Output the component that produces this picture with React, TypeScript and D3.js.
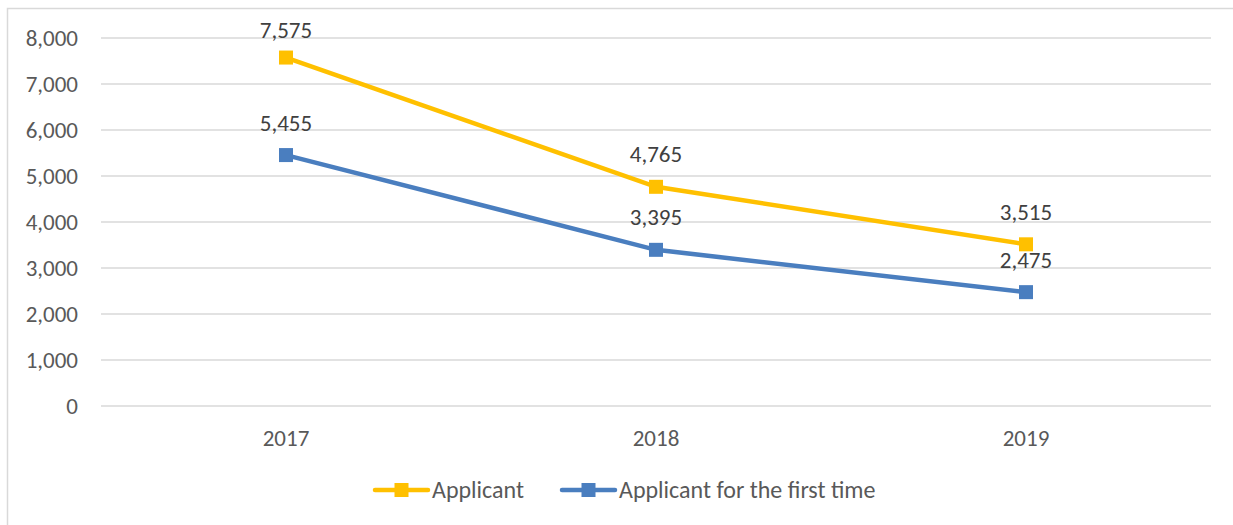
import React from "react";
import * as d3 from "d3";

const categories = ["2017", "2018", "2019"];
const applicant = [7575, 4765, 3515];
const firstTime = [5455, 3395, 2475];
const yTicks = [0, 1000, 2000, 3000, 4000, 5000, 6000, 7000, 8000];
const seriesNames = ["Applicant", "Applicant for the first time"];
const seriesColors = ["#FFC000", "#4A7EBF"];

export default function App() {
  const W = 1233, H = 525;
  const left = 101, right = 1211, top = 38, bottom = 406;
  const x = d3.scaleBand().domain(categories).range([left, right]);
  const y = d3.scaleLinear().domain([0, 8000]).range([bottom, top]);
  const fmt = d3.format(",");
  const line = d3
    .line<number>()
    .x((_, i) => (x(categories[i]) as number) + x.bandwidth() / 2)
    .y((d) => y(d));
  const series = [applicant, firstTime];
  const font = "Carlito, Calibri, 'Open Sans', sans-serif";
  const fs = 23;
  const legendItems = [
    { x: 375, textX: 432 },
    { x: 562, textX: 619 },
  ];
  return (
    <svg
      width={W}
      height={H}
      style={{ position: "absolute", left: 0, top: 0, background: "#fff" }}
      fontFamily={font}
    >
      <rect x={7.5} y={8.5} width={W + 10} height={H + 10} fill="#fff" stroke="#D9D9D9" strokeWidth={1.5} />
      {yTicks.map((t) => (
        <g key={t}>
          <line x1={left} x2={right} y1={y(t)} y2={y(t)} stroke="#D9D9D9" strokeWidth={1.5} />
          <text x={78} y={y(t)} dy="0.33em" textAnchor="end" fontSize={fs} fill="#595959">
            {fmt(t)}
          </text>
        </g>
      ))}
      {categories.map((c) => (
        <text
          key={c}
          x={(x(c) as number) + x.bandwidth() / 2}
          y={438}
          dy="0.33em"
          textAnchor="middle"
          fontSize={fs}
          fill="#595959"
        >
          {c}
        </text>
      ))}
      {series.map((s, si) => (
        <g key={si}>
          <path d={line(s) || ""} fill="none" stroke={seriesColors[si]} strokeWidth={4.5} strokeLinecap="round" />
          {s.map((v, i) => {
            const cx = (x(categories[i]) as number) + x.bandwidth() / 2;
            return (
              <g key={i}>
                <rect x={cx - 7} y={y(v) - 7} width={14} height={14} fill={seriesColors[si]} />
                <text
                  x={cx}
                  y={Math.max(y(v) - 32, 30)}
                  dy="0.33em"
                  textAnchor="middle"
                  fontSize={fs}
                  fill="#404040"
                >
                  {fmt(v)}
                </text>
              </g>
            );
          })}
        </g>
      ))}
      {legendItems.map((l, i) => (
        <g key={i}>
          <line x1={l.x} x2={l.x + 53} y1={490} y2={490} stroke={seriesColors[i]} strokeWidth={4.5} strokeLinecap="round" />
          <rect x={l.x + 26.5 - 7} y={483} width={14} height={14} fill={seriesColors[i]} />
          <text x={l.textX} y={490} dy="0.33em" fontSize={24} fill="#595959">
            {seriesNames[i]}
          </text>
        </g>
      ))}
    </svg>
  );
}
